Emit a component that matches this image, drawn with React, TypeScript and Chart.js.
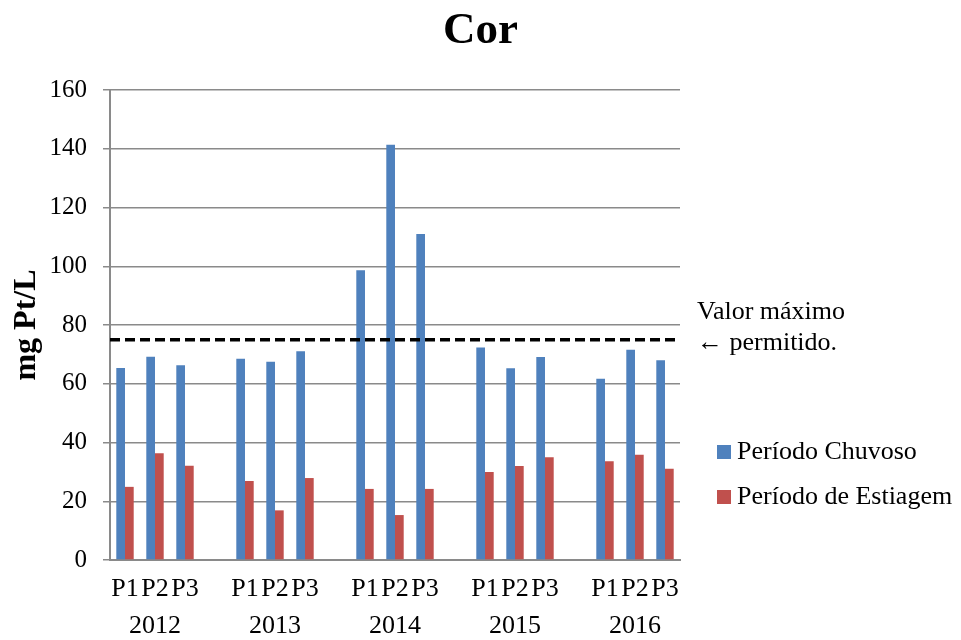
import React, { useEffect, useRef } from 'react';
import { Chart, registerables } from 'chart.js';

Chart.register(...registerables);

const YEARS = ['2012', '2013', '2014', '2015', '2016'];
const PERIODS = ['P1', 'P2', 'P3'];
// values in order 2012 P1..P3, 2013 P1..P3, ...
const CHUVOSO = [65.4, 69.2, 66.3, 68.5, 67.5, 71.1, 98.6, 141.4, 111.0, 72.3, 65.3, 69.1, 61.7, 71.6, 68.0];
const ESTIAGEM = [24.9, 36.3, 32.1, 26.9, 16.9, 27.9, 24.2, 15.3, 24.2, 30.0, 32.0, 35.0, 33.6, 35.8, 31.1];
const LIMITE = 75;
const Y_MIN = 0;
const Y_MAX = 160;
const Y_STEP = 20;
const SERIES_NAMES = ['Período Chuvoso', 'Período de Estiagem'];
const TITLE = 'Cor';
const Y_TITLE = 'mg Pt/L';
const NOTE = ['Valor máximo', '\u2190 permitido.'];

const FONT = "'Liberation Serif', 'Times New Roman', serif";
const BLUE = '#4F81BD';
const RED = '#C0504D';

// build category slots: P1 P2 P3 (gap) P1 P2 P3 ...
const labels: (string | string[])[] = [];
const chuvosoSlots: (number | null)[] = [];
const estiagemSlots: (number | null)[] = [];
YEARS.forEach((year, yi) => {
  PERIODS.forEach((p, pi) => {
    labels.push(pi === 1 ? [p, year] : p);
    chuvosoSlots.push(CHUVOSO[yi * 3 + pi]);
    estiagemSlots.push(ESTIAGEM[yi * 3 + pi]);
  });
  if (yi < YEARS.length - 1) {
    labels.push('');
    chuvosoSlots.push(null);
    estiagemSlots.push(null);
  }
});

const extrasPlugin = {
  id: 'extras',
  afterDatasetsDraw(chart: any) {
    const { ctx, chartArea, scales } = chart;
    const y = scales.y.getPixelForValue(LIMITE);
    ctx.save();
    ctx.strokeStyle = '#000';
    ctx.lineWidth = 3.5;
    ctx.setLineDash([10, 5]);
    ctx.beginPath();
    ctx.moveTo(chartArea.left, y);
    ctx.lineTo(chartArea.right, y);
    ctx.stroke();
    ctx.restore();
  },
  afterDraw(chart: any) {
    const { ctx, chartArea, scales, width } = chart;
    ctx.save();
    // title centred on the whole canvas
    ctx.fillStyle = '#000';
    ctx.textAlign = 'center';
    ctx.textBaseline = 'middle';
    ctx.font = `bold 45px ${FONT}`;
    ctx.fillText(TITLE, width / 2, 31);

    ctx.font = `26px ${FONT}`;
    ctx.textAlign = 'left';
    const yl = scales.y.getPixelForValue(LIMITE);
    const nx = chartArea.right + 17;
    ctx.fillText(NOTE[0], nx, yl - 28);
    ctx.fillText(NOTE[1], nx, yl + 3);
    // legend
    const lx = chartArea.right + 37;
    const rows = [452, 497];
    chart.data.datasets.forEach((ds: any, i: number) => {
      const cy = rows[i];
      ctx.fillStyle = ds.backgroundColor;
      ctx.fillRect(lx, cy - 7, 14, 14);
      ctx.fillStyle = '#000';
      ctx.fillText(ds.label, lx + 20, cy);
    });
    ctx.restore();
  },
};

export default function App() {
  const ref = useRef<HTMLCanvasElement | null>(null);
  useEffect(() => {
    if (!ref.current) return;
    const chart = new Chart(ref.current, {
      type: 'bar',
      data: {
        labels,
        datasets: [
          { label: SERIES_NAMES[0], data: chuvosoSlots, backgroundColor: BLUE },
          { label: SERIES_NAMES[1], data: estiagemSlots, backgroundColor: RED },
        ],
      },
      options: {
        responsive: false,
        animation: false,
        layout: { padding: { left: 0, right: 281, top: 90, bottom: 0 } },
        datasets: { bar: { categoryPercentage: 0.58, barPercentage: 1.0 } },
        plugins: {
          legend: { display: false },
          tooltip: { enabled: false },
          title: { display: false },
        },
        scales: {
          x: {
            type: 'category',
            offset: true,
            grid: { display: false, drawTicks: false },
            border: { display: true, color: '#8a8a8a', width: 2 },
            ticks: {
              autoSkip: false,
              maxRotation: 0,
              minRotation: 0,
              padding: 11,
              color: '#000',
              font: { family: FONT, size: 26, lineHeight: 1.42 },
            },
            afterFit(scale: any) {
              scale.height = 80;
            },
          },
          y: {
            min: Y_MIN,
            max: Y_MAX,
            ticks: {
              stepSize: Y_STEP,
              padding: 16,
              color: '#000',
              font: { family: FONT, size: 25 },
            },
            grid: { color: '#8a8a8a', lineWidth: 1.5, tickLength: 7, drawTicks: true },
            border: { display: true, color: '#8a8a8a', width: 2 },
            title: {
              display: true,
              text: Y_TITLE,
              color: '#000',
              font: { family: FONT, size: 32, weight: 'bold', lineHeight: 1.2 },
              padding: { top: 8, bottom: 0 },
            },
            afterFit(scale: any) {
              scale.width = 110;
            },
          },
        },
      },
      plugins: [extrasPlugin],
    });
    return () => chart.destroy();
  }, []);
  return (
    <div style={{ position: 'fixed', left: 0, top: 0, width: 961, height: 640, background: '#fff' }}>
      <canvas ref={ref} width={961} height={640} style={{ width: 961, height: 640 }} />
    </div>
  );
}
